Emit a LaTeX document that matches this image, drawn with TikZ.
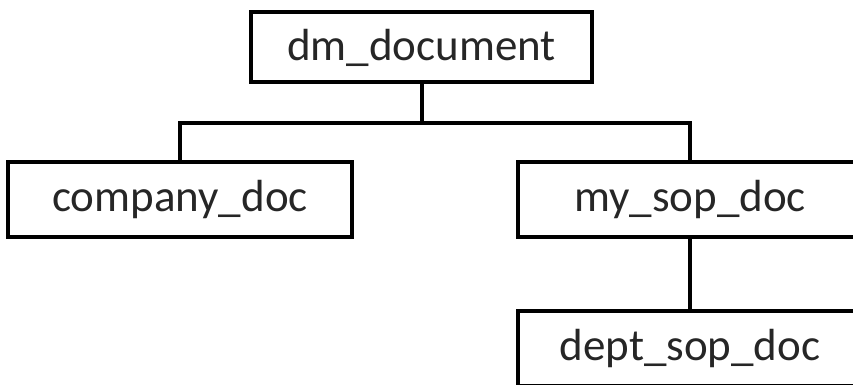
\documentclass[tikz,border=0pt]{standalone}
\usepackage{fontspec}
\setmainfont{Carlito}
\usepackage{tikz}

\begin{document}
\begin{tikzpicture}[x=1pt, y=-1pt,
    docbox/.style={draw, line width=4pt, minimum width=344pt, minimum height=75pt,
      inner sep=0pt, text=black!85, font=\fontsize{45}{54}\selectfont},
    link/.style={line width=4pt}]

    \useasboundingbox (0,0) rectangle (853,385);
    \clip (0,0) rectangle (853,385);

    \node[docbox, minimum width=341pt, minimum height=70pt] (dm) at (421.5,47.5) {dm\_document};

    \node[docbox] (company) at (180,199.5) {company\_doc};

    \node[docbox] (mysop) at (690,199.5) {my\_sop\_doc};

    \node[docbox] (deptsop) at (690,348.5) {dept\_sop\_doc};



    \coordinate (bus) at (dm.south |- 0,123);

    \draw[link] (dm.south) -- (bus);

    \draw[link] (company.north) |- (bus) -| (mysop.north);

    \draw[link] (mysop.south) -- (deptsop.north);

  \end{tikzpicture}
\end{document}
